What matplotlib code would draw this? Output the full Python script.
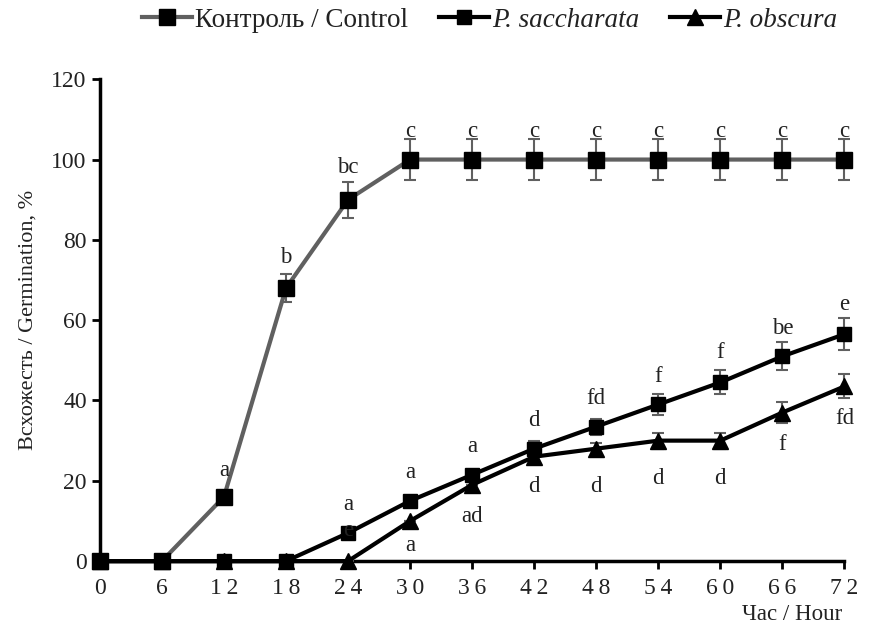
import numpy as np
import matplotlib.pyplot as plt

plt.rcParams['font.family'] = ['Liberation Serif', 'DejaVu Serif']

hours = [0, 6, 12, 18, 24, 30, 36, 42, 48, 54, 60, 66, 72]

control = [0, 0, 16, 68, 90, 100, 100, 100, 100, 100, 100, 100, 100]
control_err = [0, 0, 0, 3.5, 4.5, 5, 5, 5, 5, 5, 5, 5, 5]
control_lbl = ['', '', 'a', 'b', 'bc', 'c', 'c', 'c', 'c', 'c', 'c', 'c', 'c']
control_lbl_y = [0, 0, 22.5, 75.5, 98, 107, 107, 107, 107, 107, 107, 107, 107]

sacch = [0, 0, 0, 0, 7, 15, 21.5, 28, 33.5, 39, 44.5, 51, 56.5]
sacch_err = [0, 0, 0, 0, 0, 0, 0, 2, 2, 2.5, 3, 3.5, 4]
sacch_lbl = ['', '', '', '', 'a', 'a', 'a', 'd', 'fd', 'f', 'f', 'be', 'e']
sacch_lbl_y = [0, 0, 0, 0, 14, 22, 28.5, 35, 40.5, 46, 52, 58, 64]

obsc = [0, 0, 0, 0, 0, 10, 19, 26, 28, 30, 30, 37, 43.5]
obsc_err = [0, 0, 0, 0, 0, 0, 0, 0, 1.5, 2, 2, 2.5, 3]
obsc_lbl = ['', '', '', '', 'e', 'a', 'ad', 'd', 'd', 'd', 'd', 'f', 'fd']
obsc_lbl_y = [0, 0, 0, 0, 7.5, 4, 11, 18.5, 18.5, 20.5, 20.5, 29, 35.5]

fig = plt.figure(figsize=(8.76, 6.34), dpi=100)
ax = fig.add_axes([0.114, 0.115, 0.85, 0.76])

gray = '#606060'
ax.errorbar(hours, control, yerr=control_err, color=gray, lw=3, marker='s', ms=11.5,
            mfc='black', mec='black', ecolor=gray, elinewidth=1.5, capsize=4.5, capthick=1.5,
            clip_on=False, zorder=3, label='Контроль / Control')
ax.errorbar(hours, sacch, yerr=sacch_err, color='black', lw=3, marker='s', ms=9.5,
            mfc='black', mec='black', ecolor=gray, elinewidth=1.5, capsize=4.5, capthick=1.5,
            clip_on=False, zorder=3, label='P. saccharata')
ax.errorbar(hours, obsc, yerr=obsc_err, color='black', lw=3, marker='^', ms=11,
            mfc='black', mec='black', ecolor=gray, elinewidth=1.5, capsize=4.5, capthick=1.5,
            clip_on=False, zorder=3, label='P. obscura')

for lbls, ys in [(control_lbl, control_lbl_y), (sacch_lbl, sacch_lbl_y), (obsc_lbl, obsc_lbl_y)]:
    for h, t, y in zip(hours, lbls, ys):
        if t:
            ax.text(h, y, t, ha='center', va='center', fontsize=16.5, color='#222222', zorder=4)

ax.set_xlim(0, 72)
ax.set_ylim(0, 120)
ax.set_xticks(hours)
ax.set_yticks(range(0, 121, 20))
ax.set_xticklabels(['\u2009'.join(str(h)) for h in hours])
ax.tick_params(labelsize=17, width=2, length=6, colors='black', labelcolor='#222222')
ax.tick_params(axis='x', pad=6)
for s in ['top', 'right']:
    ax.spines[s].set_visible(False)
for s in ['left', 'bottom']:
    ax.spines[s].set_linewidth(2.5)

ax.set_ylabel('Всхожесть / Germination, %', fontsize=16, color='#222222', labelpad=10)
fig.text(0.962, 0.031, 'Час / Hour', ha='right', va='center', fontsize=16.5, color='#222222')

handles, labels = ax.get_legend_handles_labels()
handles = [h[0] for h in handles]
leg = fig.legend(handles, labels, loc='center', bbox_to_anchor=(0.559, 0.968), ncol=3,
                 frameon=False, fontsize=19.5, handlelength=1.85, handletextpad=0.1,
                 columnspacing=1.15)
for t in leg.get_texts()[1:]:
    t.set_fontstyle('italic')
for t in leg.get_texts():
    t.set_color('#222222')

fig.savefig('out.png', dpi=100)
